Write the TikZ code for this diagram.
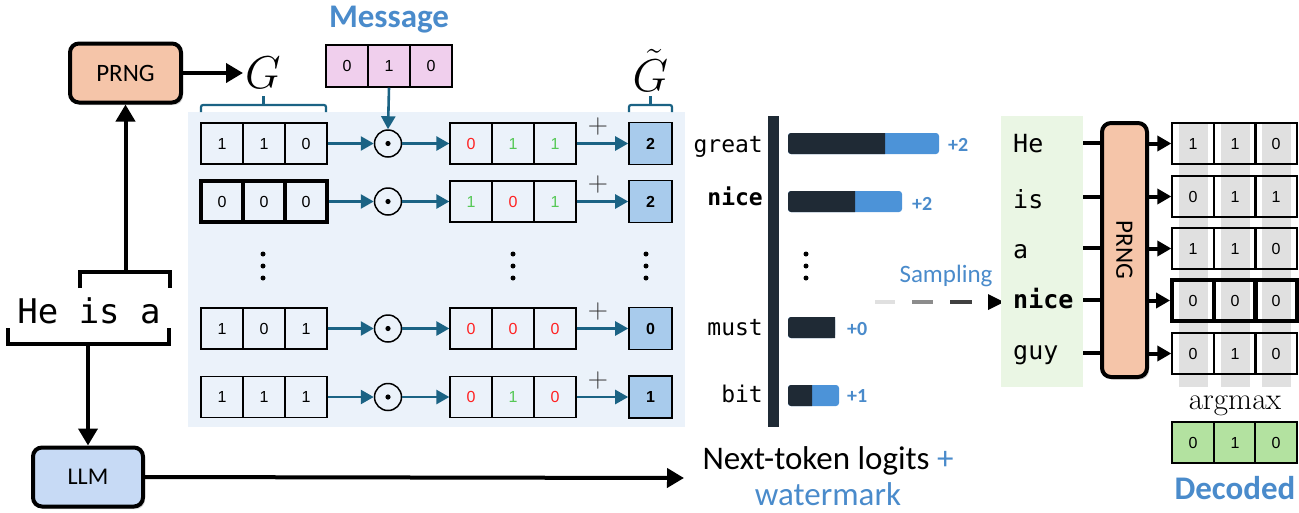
\RequirePackage{fix-cm}
\documentclass[tikz,border=0pt]{standalone}
\usepackage[no-math]{fontspec}
\setmainfont{Carlito}
\newfontfamily\arialf{Liberation Sans}
\newfontfamily\monof{DejaVu Sans Mono}
\usetikzlibrary{arrows.meta,shadows,calc}
\definecolor{tealc}{HTML}{1B6384}
\definecolor{panelb}{HTML}{EBF2FA}
\definecolor{peach}{HTML}{F5C5A9}
\definecolor{llmb}{HTML}{C7DAF5}
\definecolor{pinkm}{HTML}{F0CFED}
\definecolor{resb}{HTML}{A8CBEC}
\definecolor{decg}{HTML}{B3E2A0}
\definecolor{txtb}{HTML}{4A8BCB}
\definecolor{barb}{HTML}{4C93D8}
\definecolor{darkb}{HTML}{1F2A35}
\definecolor{greenp}{HTML}{EAF6E4}
\definecolor{stripe}{HTML}{E0E0E0}
\definecolor{redd}{HTML}{FF2222}
\definecolor{greend}{HTML}{55C855}
\begin{document}
\begin{tikzpicture}[x=1pt,y=-1pt,
  cell/.style={draw, line width=1.3pt, minimum width=42pt, minimum height=41pt, inner sep=0pt, font=\arialf\fontsize{16}{16}\selectfont},
  res/.style={draw, line width=1.6pt, fill=resb, minimum width=43pt, minimum height=42pt, inner sep=0pt, font=\arialf\bfseries\fontsize{16}{16}\selectfont},
  odotc/.style={circle, draw, line width=1.5pt, minimum size=27pt, inner sep=0pt},
  tarrow/.style={draw=tealc, line width=2.6pt, -{Triangle[length=13pt,width=14pt]}},
  barrow/.style={draw=black, line width=4pt, -{Triangle[length=17pt,width=19pt]}},
  sarrow/.style={draw=black, line width=4pt, -{Triangle[length=14pt,width=15pt]}},
  bline/.style={draw=black, line width=4pt},
  rbox/.style={draw, line width=4pt, rounded corners=9pt, inner sep=0pt, drop shadow={shadow xshift=2pt, shadow yshift=-2.5pt, opacity=0.35}},
  brace/.style={draw=tealc, line width=2.2pt, rounded corners=2pt},
  mword/.style={font=\monof\fontsize{23}{23}\selectfont, inner sep=0pt},
  rword/.style={font=\monof\fontsize{25}{25}\selectfont, inner sep=0pt, anchor=base west},
  plusl/.style={font=\bfseries\fontsize{20}{20}\selectfont, text=txtb, inner sep=0pt, anchor=west},
]
\useasboundingbox (0,0) rectangle (1299,512);
% panel
\fill[panelb] (188,112) rectangle (685,427);
% PRNG left
\node[rbox, fill=peach, minimum width=111pt, minimum height=59pt, font=\fontsize{25}{25}\selectfont] (prng) at (125.5,73) {PRNG};
\node[inner sep=0pt, anchor=base, font=\fontsize{46}{46}\selectfont] (G) at (263,88) {$G$};
\coordinate (gl) at (243,73);
\draw[barrow] (prng.east) -- (gl);
% LLM
\node[rbox, fill=llmb, minimum width=110pt, minimum height=59pt, font=\fontsize{24}{24}\selectfont] (llm) at (88,477) {LLM};
% context
\node[font=\monof\fontsize{34}{34}\selectfont, anchor=base, inner sep=0pt] (ctx) at (89,323) {He is a};
\draw[bline] (80,288) -- (80,272) -- (170,272) -- (170,288);
\coordinate (ctop) at (125.5,272);
\draw[barrow] (ctop) -- (prng.south);
\draw[bline] (8,328) -- (8,344) -- (169,344) -- (169,328);
\coordinate (cbot) at (88,344);
\draw[barrow] (cbot) -- (llm.north);
% braces
\draw[brace] (201,112) -- (201,105) -- (326,105) -- (326,112);
\draw[brace] (263.5,105) -- (263.5,96);
\draw[brace] (629,112) -- (629,105) -- (672,105) -- (672,112);
\draw[brace] (650.5,105) -- (650.5,96);
\node[inner sep=0pt, anchor=base, font=\fontsize{46}{46}\selectfont] (Gt) at (650.5,91) {$\tilde{G}$};
% message
\node[font=\bfseries\fontsize{33}{33}\selectfont, text=txtb] (msg) at (389,20) {Message};
\foreach \i/\xx/\v in {1/347/0,2/389/1,3/431/0}
  \node[cell, fill=pinkm, minimum height=42pt] (m-\i) at (\xx,66) {\v};
% rows
\foreach \r/\yy/\a/\b/\c/\pa/\pb/\pc/\ca/\cb/\cc/\v/\lw in {
 1/143.5/1/1/0/0/1/1/redd/greend/greend/2/1.3pt,
 2/201.5/0/0/0/1/0/1/greend/redd/greend/2/3.6pt,
 3/328.5/1/0/1/0/0/0/redd/redd/redd/0/1.3pt,
 4/397/1/1/1/0/1/0/redd/greend/redd/1/1.3pt}
{
  \node[cell, line width=\lw] (g-\r-1) at (222,\yy) {\a};
  \node[cell, line width=\lw] (g-\r-2) at (264,\yy) {\b};
  \node[cell, line width=\lw] (g-\r-3) at (306,\yy) {\c};
  \node[odotc] (o-\r) at (388,\yy) {};
  \fill (o-\r.center) circle (2.6pt);
  \node[cell] (h-\r-1) at (471,\yy) {\color{\ca}\pa};
  \node[cell] (h-\r-2) at (513,\yy) {\color{\cb}\pb};
  \node[cell] (h-\r-3) at (555,\yy) {\color{\cc}\pc};
  \node[res] (t-\r) at (650.5,\yy) {\v};
  \draw[tarrow] (g-\r-3.east) -- (o-\r.west);
  \draw[tarrow] (o-\r.east) -- (h-\r-1.west);
  \draw[tarrow] (h-\r-3.east) -- (t-\r.west);
  \node[font=\fontsize{28}{28}\selectfont, text=black!80, inner sep=0pt] (p-\r) at (598,\yy-17) {$+$};
}
\draw[tarrow] (m-2.south) -- (o-1.north);
% dots
\foreach \dx in {263,513,646,806}
  \foreach \dy in {254,266,278}
    \fill (\dx,\dy) circle (2.5pt);
% LLM arrow
\coordinate (ntl) at (684,478);
\draw[barrow] (llm.east) -- (ntl);
\node[font=\fontsize{33}{36}\selectfont, align=center, inner sep=0pt] (ntltext) at (828,476) {Next-token logits \textcolor{txtb}{+}\\\textcolor{txtb}{watermark}};
% logits
\fill[darkb] (768,116) rectangle (779,427);
\node[mword, anchor=base east] (wgreat) at (763,152) {great};
\node[mword, anchor=base east, font=\monof\bfseries\fontsize{23}{23}\selectfont] (wnice) at (763,205) {nice};
\node[mword, anchor=base east] (wmust) at (763,335) {must};
\node[mword, anchor=base east] (wbit) at (763,402) {bit};
\foreach \ya/\yb/\xe/\xd in {133/154/939/885, 191/212/902/855, 317/338/835/835, 385/406/839/812}{
  \fill[barb, rounded corners=3pt] (788,\ya) rectangle (\xe,\yb);
  \fill[darkb] (\xd,\ya) [rounded corners=3pt] -- (788,\ya) -- (788,\yb) [sharp corners] -- (\xd,\yb) -- cycle;
}
\node[plusl] (l1) at (948,145) {+2};
\node[plusl] (l2) at (912,203.5) {+2};
\node[plusl] (l3) at (847,329) {+0};
\node[plusl] (l4) at (847,396) {+1};
% sampling
\node[font=\fontsize{25}{25}\selectfont, text=txtb] (samp) at (946,276) {Sampling};
\draw[line width=3.5pt, black!12] (875,302) -- (895,302);
\draw[line width=3.5pt, black!45] (912,302) -- (933,302);
\draw[line width=3.5pt, black!75] (950,302) -- (972,302);
\fill (988,294) -- (1004,302) -- (988,310) -- cycle;
% green panel
\fill[greenp] (1001,116) rectangle (1083,387);
\node[rword] (rHe) at (1013,152) {He};
\node[rword] (ris) at (1013,208) {is};
\node[rword] (ra) at (1013,258) {a};
\node[rword, font=\monof\bfseries\fontsize{25}{25}\selectfont] (rnice) at (1013,308) {nice};
\node[rword] (rguy) at (1013,359) {guy};
\node[rbox, fill=peach, minimum width=45pt, minimum height=254pt, font=\fontsize{25}{25}\selectfont] (prng2) at (1124.5,250) {\rotatebox{-90}{PRNG}};
% right cells
\foreach \i/\yy in {1/143.5,2/196.5,3/248.5,4/300.5,5/353.5}
  \fill[white] (1172,\yy-20.5) rectangle (1297,\yy+20.5);
\foreach \xx in {1193,1235,1276}
  \fill[stripe] (\xx-14.5,123) rectangle (\xx+14.5,387);
\foreach \i/\yy/\a/\b/\c/\lw in {1/143.5/1/1/0/1.3pt,2/196.5/0/1/1/1.3pt,3/248.5/1/1/0/1.3pt,4/300.5/0/0/0/3.8pt,5/353.5/0/1/0/1.3pt}{
  \node[cell, line width=\lw] (r-\i-1) at (1193,\yy) {\a};
  \node[cell, line width=\lw] (r-\i-2) at (1235,\yy) {\b};
  \node[cell, line width=\lw] (r-\i-3) at (1276,\yy) {\c};
  \coordinate (pe-\i) at (prng2.east |- r-\i-1.west);
  \draw[sarrow] (pe-\i) -- (r-\i-1.west);
}
\foreach \w/\yy in {rHe/143,ris/197,ra/248,rnice/300,rguy/353}{
  \coordinate (e-\w) at (1083,\yy);
  \draw[bline] (e-\w) -- (e-\w -| prng2.west);
}
\node[font=\fontsize{31}{31}\selectfont, inner sep=0pt, anchor=base] (argmax) at (1235,409) {$\mathrm{argmax}$};
\foreach \i/\xx/\v in {1/1193/0,2/1235/1,3/1276/0}
  \node[cell, fill=decg] (d-\i) at (\xx,442.5) {\v};
\node[font=\bfseries\fontsize{33}{33}\selectfont, text=txtb] (dec) at (1235,488) {Decoded};
\end{tikzpicture}
\end{document}
